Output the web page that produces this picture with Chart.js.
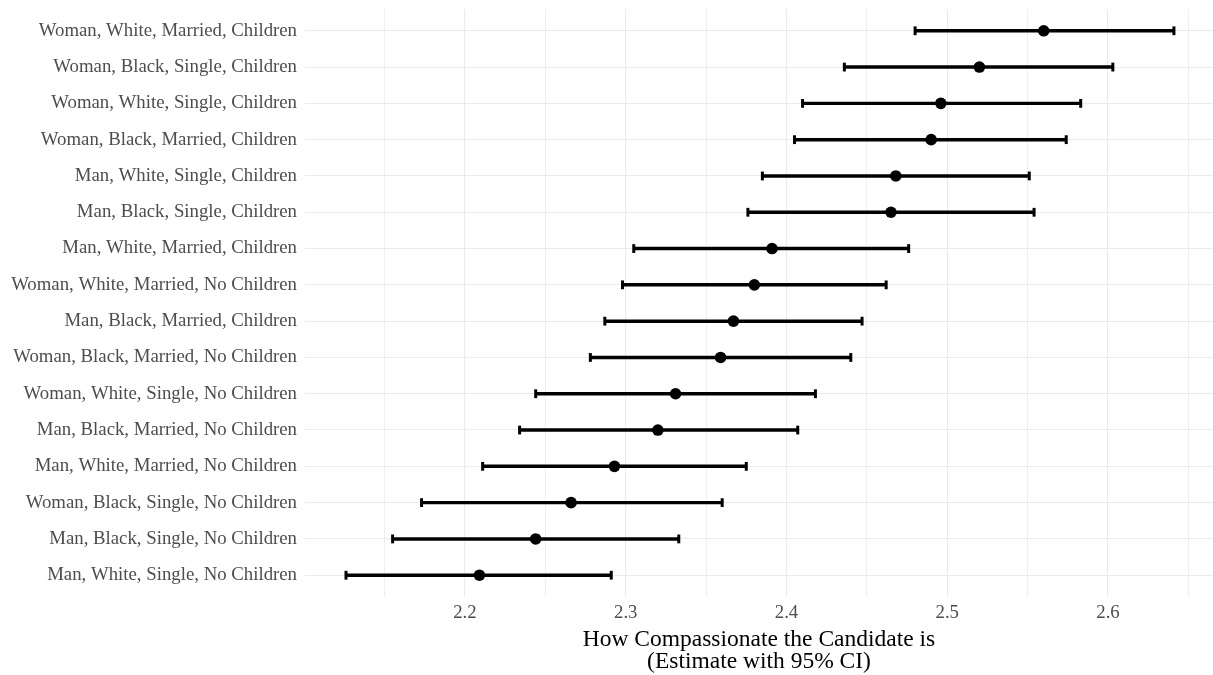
<!DOCTYPE html>
<html>
<head>
<meta charset="utf-8">
<script src="https://cdn.jsdelivr.net/npm/chart.js@4.4.1/dist/chart.umd.min.js"></script>
<style>
  html, body { margin: 0; padding: 0; background: #ffffff; overflow: hidden; }
  #wrap { width: 1213px; height: 675px; }
</style>
</head>
<body>
<div id="wrap"><canvas id="chart" width="1213" height="675"></canvas></div>
<script>
// Candidate profiles, listed top to bottom
const profiles = [
  'Woman, White, Married, Children',
  'Woman, Black, Single, Children',
  'Woman, White, Single, Children',
  'Woman, Black, Married, Children',
  'Man, White, Single, Children',
  'Man, Black, Single, Children',
  'Man, White, Married, Children',
  'Woman, White, Married, No Children',
  'Man, Black, Married, Children',
  'Woman, Black, Married, No Children',
  'Woman, White, Single, No Children',
  'Man, Black, Married, No Children',
  'Man, White, Married, No Children',
  'Woman, Black, Single, No Children',
  'Man, Black, Single, No Children',
  'Man, White, Single, No Children'
];

// Point estimates and 95% confidence bounds
const estimate = [2.560, 2.520, 2.496, 2.490, 2.468, 2.465, 2.391, 2.380, 2.367, 2.359,
                  2.331, 2.320, 2.293, 2.266, 2.244, 2.209];
const lower    = [2.480, 2.436, 2.410, 2.405, 2.385, 2.376, 2.305, 2.298, 2.287, 2.278,
                  2.244, 2.234, 2.211, 2.173, 2.155, 2.126];
const upper    = [2.641, 2.603, 2.583, 2.574, 2.551, 2.554, 2.476, 2.462, 2.447, 2.440,
                  2.418, 2.407, 2.375, 2.360, 2.333, 2.291];

// x-axis range and tick spacing (labels every 0.1, grid every 0.05)
const xMin = 2.1005;
const xMax = 2.6653;
const xGridStep = 0.05;

const serif = "'Liberation Serif', 'Times New Roman', Times, serif";
const axisTextColor = '#4D4D4D';
const gridColor = '#EBEBEB';

const isMajor = v => Math.abs(v * 10 - Math.round(v * 10)) < 1e-6;

const ciData = profiles.map((p, i) => ({ y: i, x: [lower[i], upper[i]] }));
const lowData = profiles.map((p, i) => ({ x: lower[i], y: i }));
const highData = profiles.map((p, i) => ({ x: upper[i], y: i }));
const estData = profiles.map((p, i) => ({ x: estimate[i], y: i }));

const capStyle = {
  type: 'scatter',
  pointStyle: 'line',
  rotation: 90,
  pointRadius: 4.4,
  pointBorderWidth: 3,
  borderColor: '#000000',
  backgroundColor: '#000000',
  pointBorderColor: '#000000'
};

new Chart(document.getElementById('chart'), {
  type: 'scatter',
  data: {
    datasets: [
      {
        type: 'bar',
        indexAxis: 'y',
        data: ciData,
        backgroundColor: '#000000',
        borderWidth: 0,
        barThickness: 2.8,
        order: 3
      },
      Object.assign({ data: lowData, order: 2 }, capStyle),
      Object.assign({ data: highData, order: 2 }, capStyle),
      {
        type: 'scatter',
        data: estData,
        pointRadius: 5.8,
        pointBorderWidth: 0,
        backgroundColor: '#000000',
        pointBackgroundColor: '#000000',
        order: 1
      }
    ]
  },
  options: {
    responsive: false,
    animation: false,
    events: [],
    layout: { autoPadding: false, padding: { top: 9, left: 0, right: 0, bottom: 0 } },
    plugins: {
      legend: { display: false },
      tooltip: { enabled: false }
    },
    scales: {
      x: {
        type: 'linear',
        position: 'bottom',
        min: xMin,
        max: xMax,
        offset: false,
        border: { display: false },
        grid: {
          offset: false,
          drawTicks: false,
          color: gridColor,
          lineWidth: ctx => (ctx.tick && isMajor(ctx.tick.value)) ? 1.1 : 0.8
        },
        ticks: {
          stepSize: xGridStep,
          includeBounds: false,
          autoSkip: false,
          maxRotation: 0,
          padding: 4.5,
          color: axisTextColor,
          font: { family: serif, size: 18.8, lineHeight: 1.2 },
          callback: v => isMajor(v) ? v.toFixed(1) : ''
        },
        title: {
          display: true,
          text: ['How Compassionate the Candidate is', '(Estimate with 95% CI)'],
          color: '#000000',
          font: { family: serif, size: 23.5, lineHeight: 0.93 },
          padding: { top: 0, bottom: 2 }
        },
        afterFit: scale => {
          scale.height = 78;
          scale.paddingLeft = 0;
          scale.paddingRight = 0;
        }
      },
      y: {
        type: 'linear',
        position: 'left',
        min: -0.6,
        max: profiles.length - 0.4,
        reverse: true,
        offset: false,
        border: { display: false },
        grid: {
          offset: false,
          drawTicks: false,
          color: gridColor,
          lineWidth: 1.1
        },
        ticks: {
          stepSize: 1,
          includeBounds: false,
          autoSkip: false,
          padding: 8,
          color: axisTextColor,
          font: { family: serif, size: 18.8, lineHeight: 1.2 },
          callback: v => (Number.isInteger(v) && profiles[v] !== undefined) ? profiles[v] : ''
        },
        afterFit: scale => {
          scale.width = 305;
          scale.paddingTop = 0;
          scale.paddingBottom = 0;
        }
      }
    }
  }
});
</script>
</body>
</html>
